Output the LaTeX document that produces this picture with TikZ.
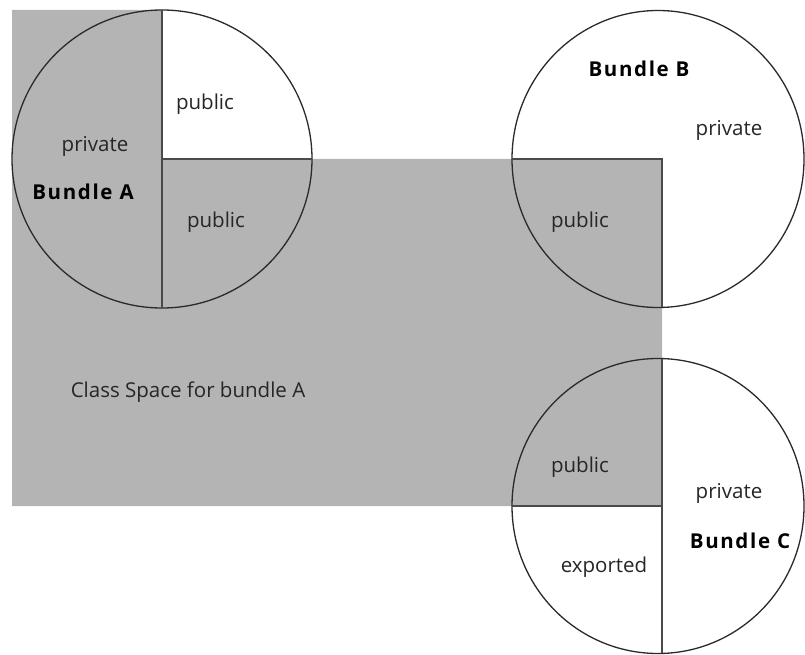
\documentclass[tikz,border=0pt]{standalone}
\usepackage{fontspec}
\setmainfont{Open Sans}
\definecolor{spacegray}{HTML}{B4B4B4}
\definecolor{inkline}{HTML}{2A2A2A}
\definecolor{inktext}{HTML}{262626}
\tikzset{
  lbl/.style={anchor=base, inner sep=0pt, text=inktext, font=\fontsize{20.5}{24}\selectfont},
  bundlelbl/.style={anchor=base, inner sep=0pt, text=black, font=\fontsize{20.5}{24}\selectfont\bfseries\addfontfeature{LetterSpace=8}},
  rim/.style={draw=inkline, line width=1.3pt},
  divider/.style={draw=inkline!85!white, line width=1.8pt},
}
\begin{document}
\begin{tikzpicture}[x=1pt,y=-1pt]
\useasboundingbox (0,0) rectangle (805,655);
% class space
\fill[spacegray] (12,10) -- (162,10) -- (162,159) -- (662,159) -- (662,506) -- (12,506) -- cycle;
% bundle B
\fill[white] (658,159) ellipse [x radius=146, y radius=148.5];
\begin{scope}
  \clip (658,159) ellipse [x radius=146, y radius=148.5];
  \fill[spacegray] (505,159) rectangle (662,315);
\end{scope}
% bundle C
\fill[white] (658,506) ellipse [x radius=146, y radius=147.5];
\begin{scope}
  \clip (658,506) ellipse [x radius=146, y radius=147.5];
  \fill[spacegray] (505,350) rectangle (662,506);
\end{scope}
% outlines
\draw[rim] (162,159) ellipse [x radius=150, y radius=149];
\draw[rim] (658,159) ellipse [x radius=146, y radius=148.5];
\draw[rim] (658,506) ellipse [x radius=146, y radius=147.5];
% dividers
\coordinate (aT) at (162,10);
\coordinate (aB) at (162,308);
\coordinate (aC) at (162,159);
\coordinate (aR) at (312,159);
\coordinate (bL) at (512,159);
\coordinate (bC) at (662,159);
\coordinate (bB) at (662,307);
\coordinate (cT) at (662,359);
\coordinate (cB) at (662,653);
\coordinate (cL) at (512,506);
\coordinate (cC) at (662,506);
\draw[divider] (aT) -- (aB);
\draw[divider] (aC) -- (aR);
\draw[divider] (bL) -- (bC) -- (bB);
\draw[divider] (cT) -- (cB);
\draw[divider] (cL) -- (cC);
% labels
\node[lbl] (apriv) at (95,152) {private};
\node[bundlelbl] (aname) at (83,200) {Bundle A};
\node[lbl] (apub1) at (205,110) {public};
\node[lbl] (apub2) at (216,227) {public};
\node[bundlelbl] (bname) at (639,77) {Bundle B};
\node[lbl] (bpriv) at (729,136) {private};
\node[lbl] (bpub) at (580,227) {public};
\node[lbl] (space) at (188,397) {Class Space for bundle A};
\node[lbl] (cpub) at (580,472) {public};
\node[lbl] (cpriv) at (729,498) {private};
\node[bundlelbl] (cname) at (740,548) {Bundle C};
\node[lbl] (cexp) at (604,572) {exported};
\end{tikzpicture}
\end{document}
